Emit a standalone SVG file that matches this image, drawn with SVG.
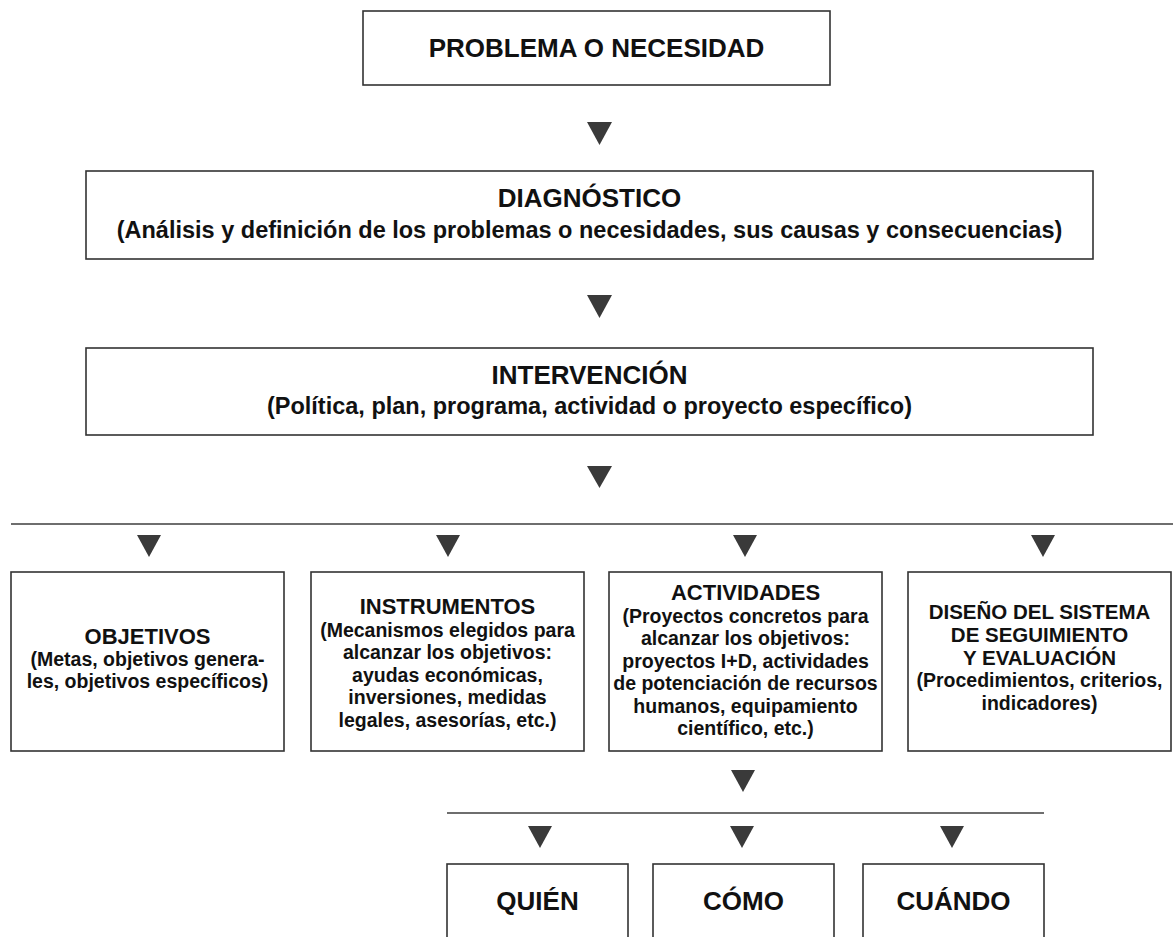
<svg xmlns="http://www.w3.org/2000/svg" width="1173" height="937" viewBox="0 0 1173 937">
<style>
  .box{fill:#ffffff;stroke:#333333;stroke-width:1.6}
  .bar{stroke:#6e6e6e;stroke-width:2;fill:none}
  .tri{fill:#3a3a3a}
  text{font-family:"Liberation Sans",Arial,Helvetica,sans-serif;font-weight:bold;fill:#111111;text-anchor:middle}
  .big{font-size:26px}
  .sub{font-size:23.5px}
  .t{font-size:22px}
  .tm{font-size:20.5px}
  .s{font-size:19.5px}
</style>
<rect x="0" y="0" width="1173" height="937" fill="#ffffff"/>
<g id="connectors">
  <polygon class="tri" points="587,122 612,122 599.5,145"/>
  <polygon class="tri" points="587,295 612,295 599.5,318"/>
  <polygon class="tri" points="587,466 612,466 599.5,488"/>
  <line class="bar" x1="11" y1="524" x2="1173" y2="524"/>
  <polygon class="tri" points="137,535 161,535 149,557"/>
  <polygon class="tri" points="436,535 460,535 448,557"/>
  <polygon class="tri" points="733,535 757,535 745,557"/>
  <polygon class="tri" points="1031,535 1055,535 1043,557"/>
  <polygon class="tri" points="731,770 755,770 743,792"/>
  <line class="bar" x1="447" y1="813" x2="1044" y2="813"/>
  <polygon class="tri" points="528,826 552,826 540,848"/>
  <polygon class="tri" points="730,826 754,826 742,848"/>
  <polygon class="tri" points="940,826 964,826 952,848"/>
</g>
<g id="problema">
  <rect class="box" x="363" y="11" width="467" height="74"/>
  <text class="big" x="596.5" y="57">PROBLEMA O NECESIDAD</text>
</g>
<g id="diagnostico">
  <rect class="box" x="86" y="171" width="1007" height="88"/>
  <text class="big" x="589.5" y="207">DIAGNÓSTICO</text>
  <text class="sub" x="589.5" y="238">(Análisis y definición de los problemas o necesidades, sus causas y consecuencias)</text>
</g>
<g id="intervencion">
  <rect class="box" x="86" y="348" width="1007" height="87"/>
  <text class="big" x="589.5" y="384">INTERVENCIÓN</text>
  <text class="sub" x="589.5" y="414">(Política, plan, programa, actividad o proyecto específico)</text>
</g>
<g id="objetivos">
  <rect class="box" x="11" y="572" width="273" height="179"/>
  <text class="t" x="147.5" y="644">OBJETIVOS</text>
  <text class="s" x="147.5" y="666">(Metas, objetivos genera-</text>
  <text class="s" x="147.5" y="688">les, objetivos específicos)</text>
</g>
<g id="instrumentos">
  <rect class="box" x="311" y="572" width="273" height="179"/>
  <text class="t" x="447.5" y="614">INSTRUMENTOS</text>
  <text class="s" x="447.5" y="636.5">(Mecanismos elegidos para</text>
  <text class="s" x="447.5" y="659">alcanzar los objetivos:</text>
  <text class="s" x="447.5" y="681.5">ayudas económicas,</text>
  <text class="s" x="447.5" y="704">inversiones, medidas</text>
  <text class="s" x="447.5" y="726.5">legales, asesorías, etc.)</text>
</g>
<g id="actividades">
  <rect class="box" x="609" y="572" width="273" height="179"/>
  <text class="t" x="745.5" y="600">ACTIVIDADES</text>
  <text class="s" x="745.5" y="622.5">(Proyectos concretos para</text>
  <text class="s" x="745.5" y="645">alcanzar los objetivos:</text>
  <text class="s" x="745.5" y="667.5">proyectos I+D, actividades</text>
  <text class="s" x="745.5" y="690">de potenciación de recursos</text>
  <text class="s" x="745.5" y="712.5">humanos, equipamiento</text>
  <text class="s" x="745.5" y="735">científico, etc.)</text>
</g>
<g id="diseno">
  <rect class="box" x="908" y="572" width="263" height="179"/>
  <text class="tm" x="1039.5" y="619">DISEÑO DEL SISTEMA</text>
  <text class="tm" x="1039.5" y="642">DE SEGUIMIENTO</text>
  <text class="tm" x="1039.5" y="665">Y EVALUACIÓN</text>
  <text class="s" x="1039.5" y="687">(Procedimientos, criterios,</text>
  <text class="s" x="1039.5" y="709.5">indicadores)</text>
</g>
<g id="quien">
  <rect class="box" x="447" y="864" width="181" height="100"/>
  <text class="big" x="537.5" y="910">QUIÉN</text>
</g>
<g id="como">
  <rect class="box" x="653" y="864" width="181" height="100"/>
  <text class="big" x="743.5" y="910">CÓMO</text>
</g>
<g id="cuando">
  <rect class="box" x="863" y="864" width="181" height="100"/>
  <text class="big" x="953.5" y="910">CUÁNDO</text>
</g>
</svg>
